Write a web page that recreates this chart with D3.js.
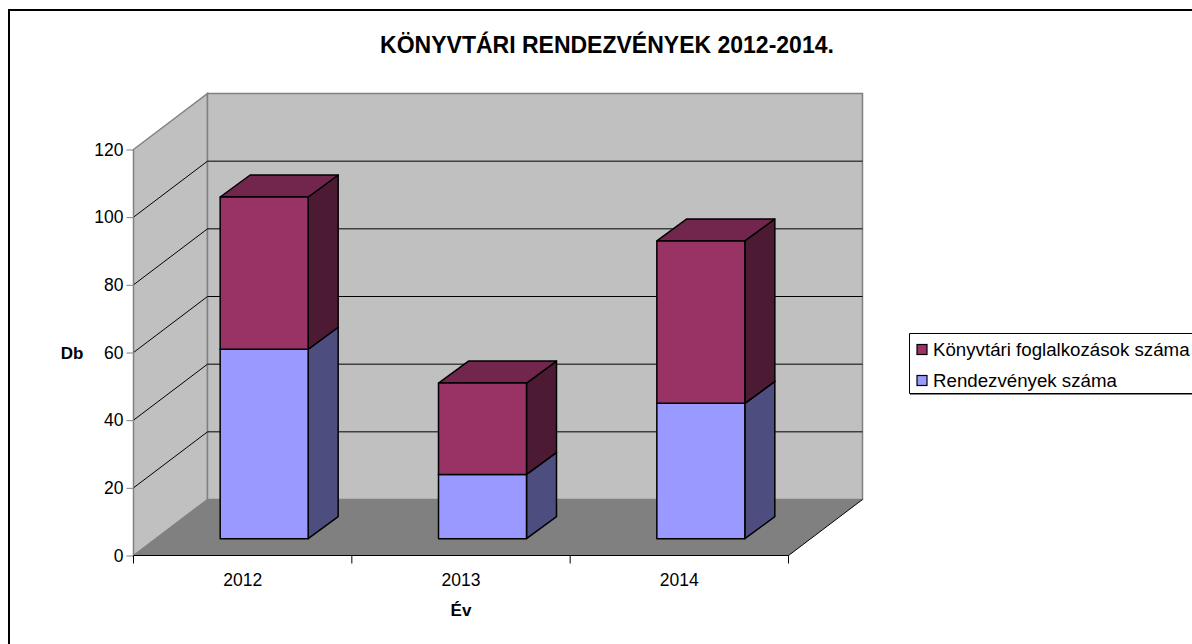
<!DOCTYPE html>
<html>
<head>
<meta charset="utf-8">
<script src="https://cdnjs.cloudflare.com/ajax/libs/d3/7.8.5/d3.min.js"></script>
<style>
    html, body { margin: 0; padding: 0; background: #fff; }
    svg { display: block; font-family: "Liberation Sans", Arial, sans-serif; }
</style>
</head>
<body>
<svg id="chart" width="1192" height="644"></svg>
<script>
var years = ["2012", "2013", "2014"];
var rendezvenyek = [56, 19, 40];
var foglalkozasok = [45, 27, 48];
var yTicks = [0, 20, 40, 60, 80, 100, 120];

var svg = d3.select("#chart");

// 3D offsets of the old Excel style chart
var depth = { x: 74, y: 56 };
var barDepth = { x: 30, y: 22 };
var barOffset = { x: 21.5, y: 16.8 };

var x = d3.scaleBand().domain(years).range([133.5, 788.5]);
var y = d3.scaleLinear().domain([0, 120]).range([555.5, 149.5]);

function pts(list) {
    return list.map(function(p) { return p.join(","); }).join(" ");
}

// frame, only top and left are visible
svg.append("path").attr("d", "M9,644V10H1192").attr("fill", "none").attr("stroke", "#000").attr("stroke-width", 2);

// walls and floor
var x0 = x.range()[0], x1 = x.range()[1];
var yTop = y(120), yBase = y(0);

svg.append("polygon")
    .attr("points", pts([[x0, yTop], [x0 + depth.x, yTop - depth.y], [x0 + depth.x, yBase - depth.y], [x0, yBase]]))
    .attr("fill", "#c0c0c0").attr("stroke", "#808080").attr("stroke-width", 1.5);
svg.append("polygon")
    .attr("points", pts([[x0 + depth.x, yTop - depth.y], [x1 + depth.x, yTop - depth.y], [x1 + depth.x, yBase - depth.y], [x0 + depth.x, yBase - depth.y]]))
    .attr("fill", "#c0c0c0").attr("stroke", "#808080").attr("stroke-width", 1.5);
svg.append("polygon")
    .attr("points", pts([[x0, yBase], [x0 + depth.x, yBase - depth.y], [x1 + depth.x, yBase - depth.y], [x1, yBase]]))
    .attr("fill", "#808080");

// gridlines
svg.append("g").selectAll("path")
    .data(yTicks.filter(function(d) { return d > 0 && d < 120; }))
    .enter().append("path")
    .attr("d", function(d) {
        return "M" + x0 + "," + y(d) + "L" + (x0 + depth.x) + "," + (y(d) - depth.y) + "H" + (x1 + depth.x);
    })
    .attr("fill", "none").attr("stroke", "#000").attr("stroke-width", 1);

svg.append("path")
    .attr("d", "M" + x0 + "," + yBase + "H" + x1 + "L" + (x1 + depth.x) + "," + (yBase - depth.y))
    .attr("fill", "none").attr("stroke", "#000").attr("stroke-width", 1);

// stacked bars
var barW = 88;
function drawBox(xLeft, yLow, yHigh, front, top, side) {
    var g = svg.append("g").attr("stroke", "#000").attr("stroke-width", 1.5).attr("stroke-linejoin", "round");
    g.append("polygon").attr("fill", side)
        .attr("points", pts([[xLeft + barW, yLow], [xLeft + barW + barDepth.x, yLow - barDepth.y], [xLeft + barW + barDepth.x, yHigh - barDepth.y], [xLeft + barW, yHigh]]));
    g.append("polygon").attr("fill", top)
        .attr("points", pts([[xLeft, yHigh], [xLeft + barDepth.x, yHigh - barDepth.y], [xLeft + barW + barDepth.x, yHigh - barDepth.y], [xLeft + barW, yHigh]]));
    g.append("rect").attr("fill", front)
        .attr("x", xLeft).attr("y", yHigh).attr("width", barW).attr("height", yLow - yHigh);
}

years.forEach(function(yr, i) {
    var left = x(yr) + (x.bandwidth() - barW) / 2 + barOffset.x;
    var a = rendezvenyek[i], b = a + foglalkozasok[i];
    drawBox(left, y(0) - barOffset.y, y(a) - barOffset.y, "#9999ff", "#7373bf", "#4d4d80");
    drawBox(left, y(a) - barOffset.y, y(b) - barOffset.y, "#993366", "#73264d", "#4d1a33");
});

// axes
var yAxis = d3.axisLeft(y).tickValues(yTicks).tickSize(7).tickPadding(3).tickSizeOuter(0);
var yG = svg.append("g").attr("transform", "translate(" + x0 + ",0)").call(yAxis);
yG.select(".domain").remove();
yG.selectAll("line").attr("stroke", "#808080").attr("stroke-width", 1);
yG.selectAll("text").attr("font-size", 17.5).attr("font-family", "Liberation Sans").attr("fill", "#000");
yG.append("line").attr("y1", yTop).attr("y2", yBase + 7).attr("stroke", "#808080");

var xAxis = d3.axisBottom(x).tickSize(0).tickPadding(18);
var xG = svg.append("g").attr("transform", "translate(0," + yBase + ")").call(xAxis);
xG.select(".domain").remove();
xG.selectAll("text").attr("font-size", 17.5).attr("font-family", "Liberation Sans").attr("fill", "#000");
xG.selectAll(".sep").data([0, 1, 2, 3]).enter().append("line")
    .attr("x1", function(d) { return x0 + d * x.bandwidth(); })
    .attr("x2", function(d) { return x0 + d * x.bandwidth(); })
    .attr("y1", 0).attr("y2", 8).attr("stroke", "#000");

// titles
svg.append("text").attr("x", 607).attr("y", 53).attr("text-anchor", "middle")
    .attr("font-size", 23).attr("font-weight", "bold").text("KÖNYVTÁRI RENDEZVÉNYEK 2012-2014.");
svg.append("text").attr("x", 72).attr("y", 359).attr("text-anchor", "middle")
    .attr("font-size", 17).attr("font-weight", "bold").text("Db");
svg.append("text").attr("x", 461).attr("y", 616).attr("text-anchor", "middle")
    .attr("font-size", 17).attr("font-weight", "bold").text("Év");

// legend
var legendItems = [
    { name: "Könyvtári foglalkozások száma", color: "#993366" },
    { name: "Rendezvények száma", color: "#9999ff" }
];
svg.append("path").attr("d", "M1192,333.5H909.5V393.5H1192").attr("fill", "#fff").attr("stroke", "#000").attr("stroke-width", 1);
svg.append("line").attr("x1", 910).attr("x2", 1192).attr("y1", 394.5).attr("y2", 394.5).attr("stroke", "#808080").attr("stroke-width", 1);
var leg = svg.append("g").selectAll("g").data(legendItems).enter().append("g")
    .attr("transform", function(d, i) { return "translate(0," + (349.5 + i * 31) + ")"; });
leg.append("rect").attr("x", 917).attr("y", -5).attr("width", 10).attr("height", 10)
    .attr("fill", function(d) { return d.color; }).attr("stroke", "#000").attr("stroke-width", 1.2);
leg.append("text").attr("x", 933).attr("y", 6.5).attr("font-size", 18.7).text(function(d) { return d.name; });
</script>
</body>
</html>
